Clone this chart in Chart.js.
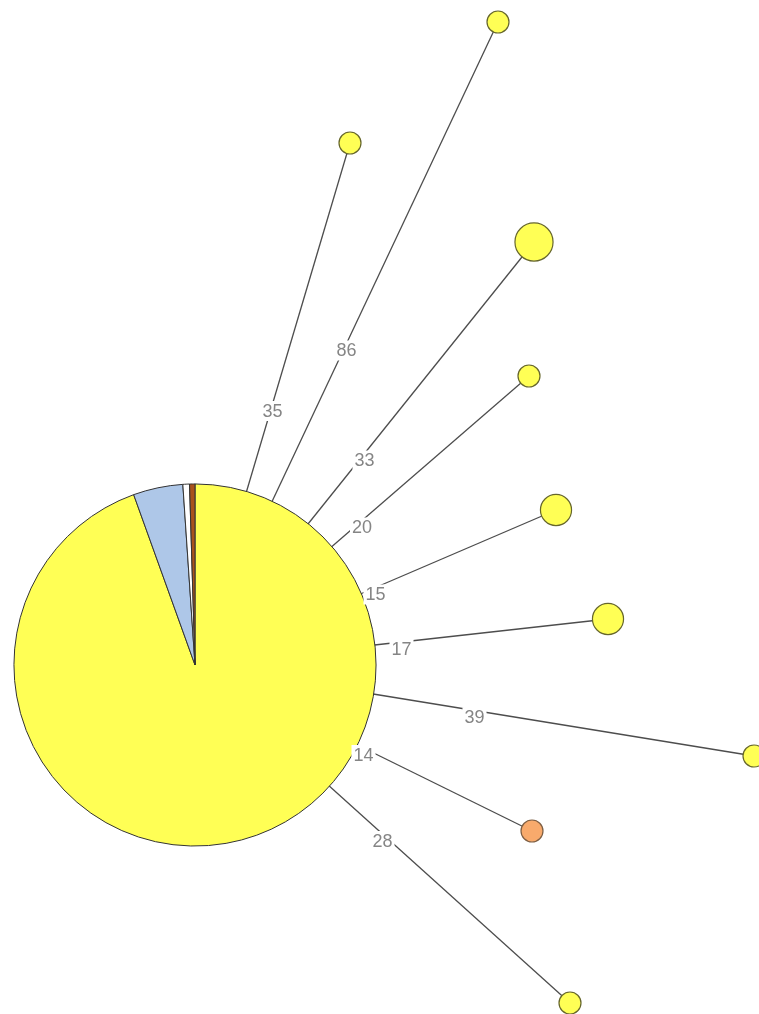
<!DOCTYPE html>
<html>
<head>
<meta charset="utf-8">
<script src="https://cdn.jsdelivr.net/npm/chart.js@4.4.1/dist/chart.umd.min.js"></script>
<style>
  html, body { margin: 0; padding: 0; background: #ffffff; }
  #wrap { position: relative; width: 759px; height: 1014px; overflow: hidden; }
  #wrap canvas { position: absolute; left: 0; top: 0; }
</style>
</head>
<body>
<div id="wrap">
  <canvas id="graph" width="759" height="1014"></canvas>
  <canvas id="hub" width="759" height="1014"></canvas>
</div>
<script>
// Hub node: sample counts per group (drawn as a pie)
const hubGroups = ['group 1', 'group 2', 'group 3', 'group 4'];
const hubCounts = [256, 12, 1.6, 1.3];
const hubPos = { x: 195, y: 665 };

// Leaf nodes: layout coordinates, sample counts and distance to hub
const nodeIds = ['n1', 'n2', 'n3', 'n4', 'n5', 'n6', 'n7', 'n8', 'n9'];
const nodeX = [498, 350, 534, 529, 556, 608, 754, 532, 570];
const nodeY = [22, 143, 242, 376, 510, 619, 756, 831, 1003];
const nodeCounts = [1, 1, 3, 1, 2, 2, 1, 1, 1];
const nodeGroup = [0, 0, 0, 0, 0, 0, 0, 4, 0];
const edgeDistances = [86, 35, 33, 20, 15, 17, 39, 14, 28];

// Styling
const groupColors = ['#ffff55', '#aec7e8', '#ffffff', '#a9531c', '#f8aa6c'];
const NODE_UNIT = 11;             // radius of a single-sample node
const EDGE_COLOR = '#4d4d4d';
const LABEL_FONT = '18px "Liberation Sans", Arial, sans-serif';
const W = 759, H = 1014;

const radiusFor = n => NODE_UNIT * Math.sqrt(n);

// Edges: hub -> leaf, one line each
const edgeSets = nodeIds.map((id, i) => ({
  type: 'scatter',
  label: 'edge ' + id,
  data: [{ x: hubPos.x, y: hubPos.y }, { x: nodeX[i], y: nodeY[i] }],
  showLine: true,
  borderColor: EDGE_COLOR,
  borderWidth: 1.3,
  pointRadius: 0,
  order: 2
}));

const nodeSet = {
  type: 'scatter',
  label: 'nodes',
  data: nodeIds.map((id, i) => ({ x: nodeX[i], y: nodeY[i] })),
  pointRadius: nodeCounts.map(radiusFor),
  backgroundColor: nodeGroup.map(g => groupColors[g]),
  borderColor: nodeGroup.map(g => g === 4 ? '#7d5f44' : '#66662c'),
  borderWidth: 1.2,
  order: 1
};

const graph = new Chart(document.getElementById('graph'), {
  type: 'scatter',
  data: { datasets: [...edgeSets, nodeSet] },
  options: {
    responsive: false,
    animation: false,
    layout: { padding: 0, autoPadding: false },
    plugins: { legend: { display: false }, tooltip: { enabled: false } },
    scales: {
      x: { type: 'linear', min: 0, max: W, display: false },
      y: { type: 'linear', min: 0, max: H, reverse: true, display: false }
    }
  }
});

// Distance labels with a white backing box, halfway along each edge
const edgeLabels = {
  id: 'edgeLabels',
  afterDraw(chart) {
    const { ctx } = chart;
    const sx = graph.scales.x, sy = graph.scales.y;
    ctx.save();
    ctx.font = LABEL_FONT;
    ctx.textAlign = 'center';
    ctx.textBaseline = 'middle';
    edgeDistances.forEach((d, i) => {
      const mx = (sx.getPixelForValue(hubPos.x) + sx.getPixelForValue(nodeX[i])) / 2;
      const my = (sy.getPixelForValue(hubPos.y) + sy.getPixelForValue(nodeY[i])) / 2 + 7;
      const txt = String(d);
      const w = ctx.measureText(txt).width;
      ctx.fillStyle = '#ffffff';
      ctx.fillRect(mx - w / 2 - 2, my - 10, w + 4, 20);
      ctx.fillStyle = '#858585';
      ctx.fillText(txt, mx, my + 1);
    });
    ctx.restore();
  }
};

// Place the hub pie on the hub's pixel position from the graph scales
const cx = graph.scales.x.getPixelForValue(hubPos.x);
const cy = graph.scales.y.getPixelForValue(hubPos.y);
const hubR = radiusFor(hubCounts.reduce((a, b) => a + b, 0));
const half = hubR + 2;

new Chart(document.getElementById('hub'), {
  type: 'pie',
  data: {
    labels: hubGroups,
    datasets: [{
      data: hubCounts,
      backgroundColor: groupColors.slice(0, 4),
      borderColor: '#333333',
      borderWidth: 1,
      hoverOffset: 0,
      radius: hubR
    }]
  },
  options: {
    responsive: false,
    animation: false,
    layout: { padding: { left: cx - half, right: W - cx - half, top: cy - half, bottom: H - cy - half } },
    plugins: { legend: { display: false }, tooltip: { enabled: false } }
  },
  plugins: [edgeLabels]
});
</script>
</body>
</html>
